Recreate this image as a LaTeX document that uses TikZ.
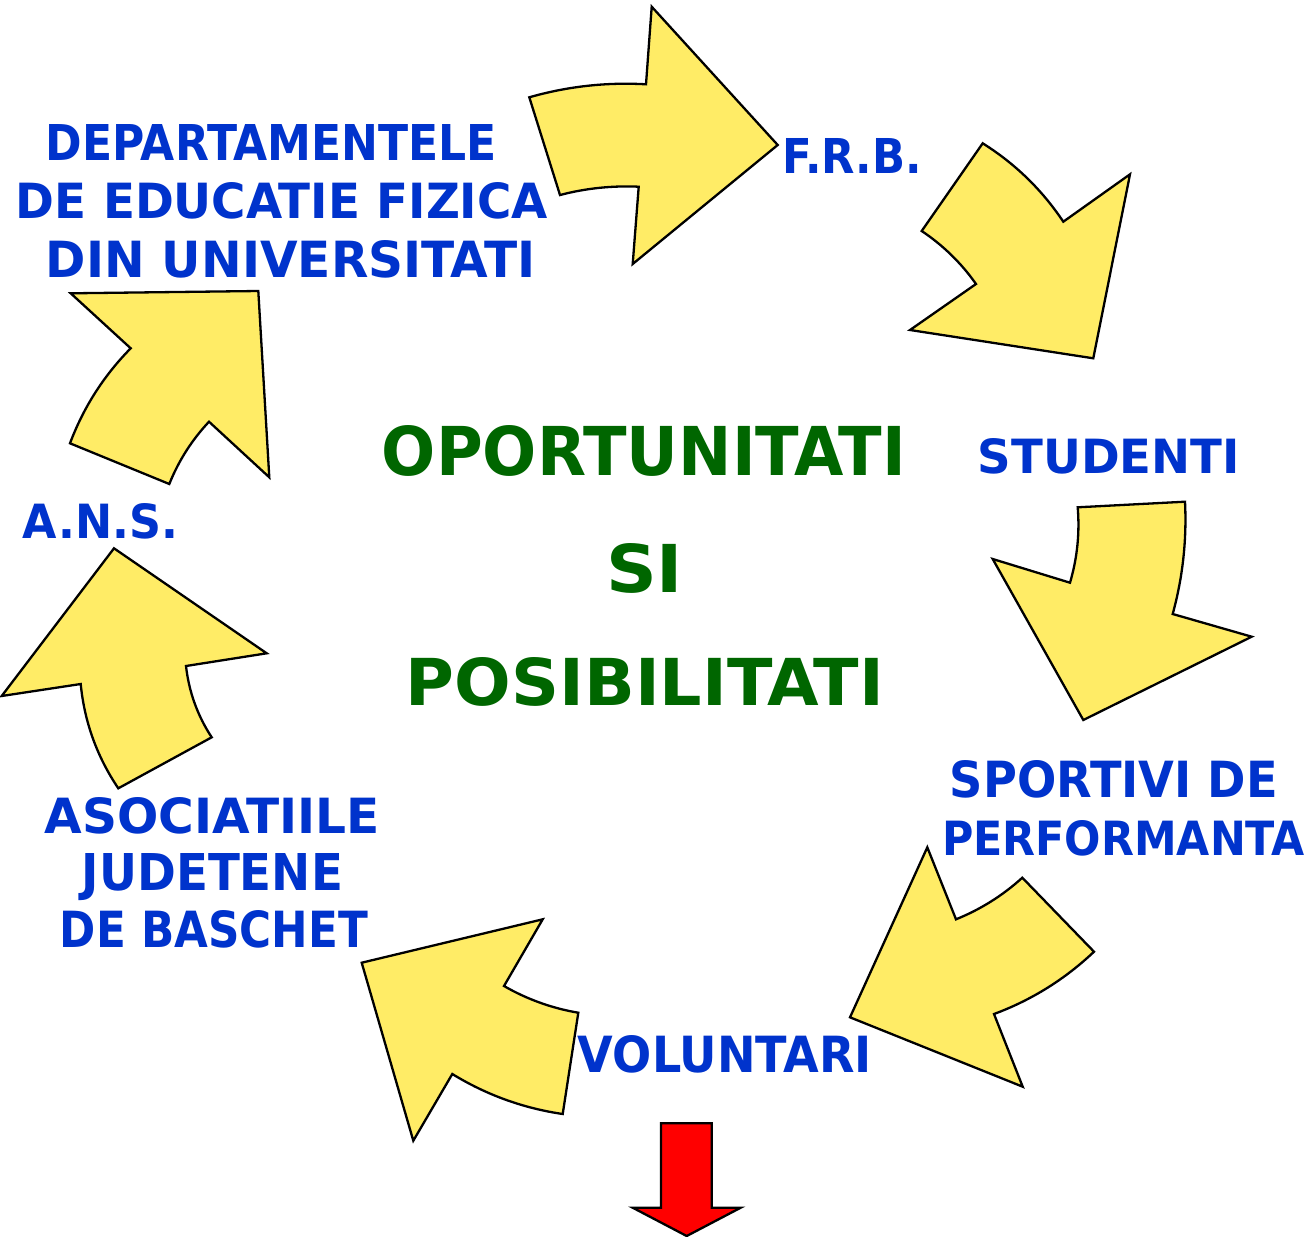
\documentclass[tikz,border=0pt]{standalone}
\usepackage{fontspec}
\setmainfont{DejaVu Sans}
\usepackage{graphicx}
\usetikzlibrary{calc}
\definecolor{txtblue}{HTML}{0033CC}
\definecolor{txtgreen}{HTML}{006600}
\definecolor{arrowyellow}{HTML}{FFEC66}
\newlength\pxu
\setlength\pxu{0.5pt}
\newcommand\fitt[3]{\resizebox{#1\pxu}{#2\pxu}{\raisebox{0pt}[\height][0pt]{\bfseries #3}}}
\tikzset{
  yarrow/.style={draw=black, fill=arrowyellow, line width=1.15pt, line join=miter},
  redarrow/.style={draw=black, fill=red, line width=1.15pt, line join=miter},
  lbl/.style={inner sep=0pt, outer sep=0pt, anchor=center, text=txtblue},
  ctr/.style={inner sep=0pt, outer sep=0pt, anchor=center, text=txtgreen}
}
\begin{document}
\begin{tikzpicture}[x=0.5pt, y=-0.5pt]
\useasboundingbox (0,0) rectangle (1312,1237);
\fill[white] (0,0) rectangle (1312,1237);

% arrow 1 (top, towards F.R.B.)
\draw[yarrow] (529.3,97.3)
  .. controls ($(529.3,97.3)!0.6667!(586.6,80.9)$) and ($(646,84.3)!0.6667!(586.6,80.9)$) .. (646,84.3)
  -- (651.7,6.7) -- (777.7,145) -- (632.7,264) -- (638.7,186.7)
  .. controls ($(638.7,186.7)!0.6667!(598.8,184.9)$) and ($(560,195)!0.6667!(598.8,184.9)$) .. (560,195) -- cycle;
% arrow 2
\draw[yarrow] (982.7,143.3)
  .. controls ($(982.7,143.3)!0.6667!(1031.4,173.9)$) and ($(1063.3,221.7)!0.6667!(1031.4,173.9)$) .. (1063.3,221.7)
  -- (1130,174.3) -- (1093.3,358.3) -- (910,330) -- (976,284)
  .. controls ($(976,284)!0.6667!(953.8,252.5)$) and ($(921.7,231)!0.6667!(953.8,252.5)$) .. (921.7,231) -- cycle;
% arrow 3
\draw[yarrow] (1077.7,507.3) -- (1185,501.7)
  .. controls ($(1185,501.7)!0.6667!(1187.8,558.9)$) and ($(1172.7,614)!0.6667!(1187.8,558.9)$) .. (1172.7,614)
  -- (1251.7,636.7) -- (1083.3,720) -- (992.7,559) -- (1070,582.7)
  .. controls ($(1070,582.7)!0.6667!(1080.9,545.7)$) and ($(1077.7,507.3)!0.6667!(1080.9,545.7)$) .. (1077.7,507.3) -- cycle;
% arrow 4
\draw[yarrow] (927.3,847.3) -- (956,919.3)
  .. controls ($(956,919.3)!0.6667!(992.9,904.4)$) and ($(1022.3,877.7)!0.6667!(992.9,904.4)$) .. (1022.3,877.7)
  -- (1094,951.7)
  .. controls ($(1094,951.7)!0.6667!(1050.3,993.1)$) and ($(994,1014)!0.6667!(1050.3,993.1)$) .. (994,1014)
  -- (1022.7,1086.7) -- (850,1017.3) -- cycle;
% arrow 5
\draw[yarrow] (542.7,919.3) -- (504,986)
  .. controls ($(504,986)!0.6667!(538.8,1006)$) and ($(578.3,1012.7)!0.6667!(538.8,1006)$) .. (578.3,1012.7)
  -- (562.7,1114)
  .. controls ($(562.7,1114)!0.6667!(503.4,1105.3)$) and ($(452.3,1074)!0.6667!(503.4,1105.3)$) .. (452.3,1074)
  -- (413.3,1140.7) -- (361.7,962.7) -- cycle;
% arrow 6
\draw[yarrow] (114,548.3) -- (266.7,653.3) -- (186,666)
  .. controls ($(186,666)!0.6667!(190.4,704.8)$) and ($(211.7,737.3)!0.6667!(190.4,704.8)$) .. (211.7,737.3)
  -- (118.3,788.3)
  .. controls ($(118.3,788.3)!0.6667!(86.3,740.9)$) and ($(80.7,684)!0.6667!(86.3,740.9)$) .. (80.7,684)
  -- (1.7,696) -- cycle;
% arrow 7
\draw[yarrow] (70.7,293.3) -- (258.3,291) -- (269.3,477.3) -- (209,421.7)
  .. controls ($(209,421.7)!0.6667!(183.3,449.1)$) and ($(169.3,484)!0.6667!(183.3,449.1)$) .. (169.3,484)
  -- (70,443.3)
  .. controls ($(70,443.3)!0.6667!(90.3,389.3)$) and ($(130.7,348.3)!0.6667!(90.3,389.3)$) .. (130.7,348.3) -- cycle;
% red arrow
\draw[redarrow] (661,1123.3) -- (711.7,1123.3) -- (711.7,1207.7) -- (740.7,1207.7) -- (686.7,1236) -- (632.7,1207.7) -- (661,1207.7) -- cycle;

% labels
\node[lbl] (dep1) at (271.5,142) {\fitt{451}{36}{DEPARTAMENTELE}};
\node[lbl] (dep2) at (282,200) {\fitt{532}{36}{DE EDUCATIE FIZICA}};
\node[lbl] (dep3) at (291,258.5) {\fitt{490}{37}{DIN UNIVERSITATI}};
\node[lbl] (frb) at (852,155.5) {\fitt{140}{35}{F.R.B.}};
\node[lbl] (stud) at (1109,455.5) {\fitt{262}{35}{STUDENTI}};
\node[lbl] (sp1) at (1114,778.5) {\fitt{328}{37}{SPORTIVI DE}};
\node[lbl] (sp2) at (1123.5,837.5) {\fitt{363}{35}{PERFORMANTA}};
\node[lbl] (vol) at (725,1053.5) {\fitt{294}{37}{VOLUNTARI}};
\node[lbl] (as1) at (212.5,815) {\fitt{335}{36}{ASOCIATIILE}};
\node[lbl] (as2) at (212.5,871.5) {\fitt{261}{37}{JUDETENE}};
\node[lbl] (as3) at (214,928.5) {\fitt{308}{37}{DE BASCHET}};
\node[lbl] (ans) at (100.5,520.5) {\fitt{155}{35}{A.N.S.}};

\node[ctr] (op) at (644,450) {\fitt{524}{50}{OPORTUNITATI}};
\node[ctr] (si) at (644.5,567.5) {\fitt{77}{49}{SI}};
\node[ctr] (pos) at (645,681) {\fitt{478}{48}{POSIBILITATI}};
\end{tikzpicture}
\end{document}
